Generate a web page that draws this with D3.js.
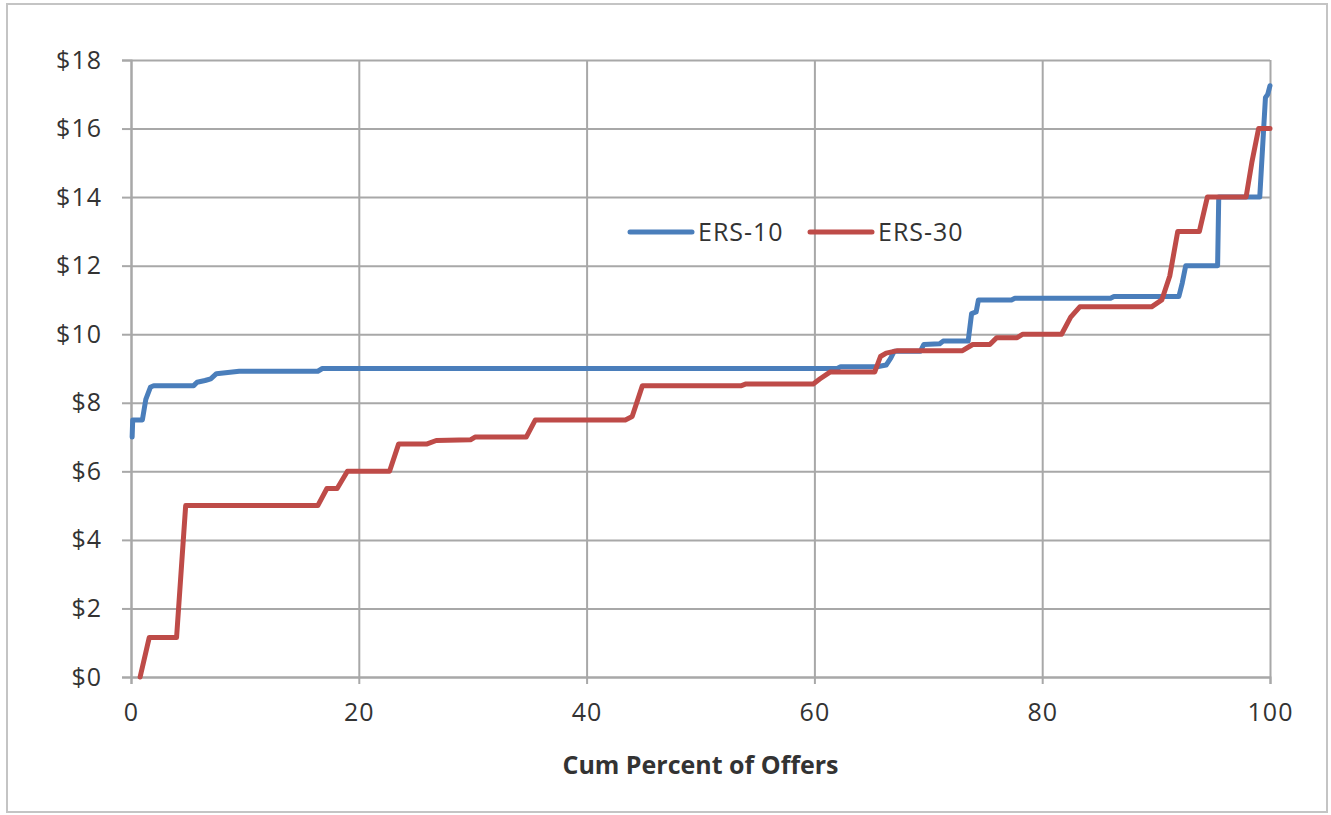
<!DOCTYPE html>
<html>
<head>
<meta charset="utf-8">
<script src="https://cdn.jsdelivr.net/npm/d3@7"></script>
<style>
  html, body { margin: 0; padding: 0; background: #fff; }
  svg { display: block; }
  text { font-family: "Open Sans", "Noto Sans", sans-serif; fill: #333; }
</style>
</head>
<body>
<svg id="chart" width="1331" height="815"></svg>
<script>
// ---- Data ----
const xTicks = [0, 20, 40, 60, 80, 100];
const yTicks = [0, 2, 4, 6, 8, 10, 12, 14, 16, 18];
const yTickLabels = ["$0", "$2", "$4", "$6", "$8", "$10", "$12", "$14", "$16", "$18"];
const seriesNames = ["ERS-10", "ERS-30"];
const xTitle = "Cum Percent of Offers";

// ERS-10: cumulative percent of offers vs price
const ers10Pct = [0.1, 0.15, 1.0, 1.3, 1.7, 2.0, 5.5, 5.8, 6.5, 7.0, 7.5, 9.5, 16.4, 16.8,
  62.0, 62.3, 65.5, 66.3, 66.7, 67.0, 69.3, 69.6, 71.0, 71.3, 73.5, 73.8, 74.2, 74.4,
  77.3, 77.6, 86.0, 86.3, 92.0, 92.3, 92.6, 95.4, 95.5, 99.1, 99.6, 99.8, 100];
const ers10Price = [7.0, 7.5, 7.5, 8.1, 8.45, 8.5, 8.5, 8.6, 8.65, 8.7, 8.85, 8.92, 8.92, 9.0,
  9.0, 9.05, 9.05, 9.1, 9.3, 9.5, 9.5, 9.7, 9.72, 9.8, 9.8, 10.6, 10.65, 11.0,
  11.0, 11.05, 11.05, 11.1, 11.1, 11.5, 12.0, 12.0, 14.0, 14.0, 16.9, 17.0, 17.25];

// ERS-30
const ers30Pct = [0.8, 1.6, 4.0, 4.8, 16.4, 17.2, 18.1, 19.0, 22.7, 23.5, 26.0, 26.8, 29.8, 30.2,
  34.7, 35.5, 43.4, 44.0, 44.9, 53.6, 54.0, 59.9, 60.5, 61.4, 65.3, 65.8, 66.3, 67.3,
  73.0, 73.9, 75.4, 76.0, 77.8, 78.3, 81.7, 82.5, 83.3, 89.6, 90.5, 91.2, 91.9, 93.8,
  94.5, 97.9, 98.4, 99.0, 100];
const ers30Price = [0, 1.15, 1.15, 5.0, 5.0, 5.5, 5.5, 6.0, 6.0, 6.8, 6.8, 6.9, 6.92, 7.0,
  7.0, 7.5, 7.5, 7.6, 8.5, 8.5, 8.55, 8.55, 8.7, 8.9, 8.9, 9.35, 9.45, 9.52,
  9.52, 9.7, 9.7, 9.9, 9.9, 10.0, 10.0, 10.5, 10.8, 10.8, 11.0, 11.7, 13.0, 13.0,
  14.0, 14.0, 15.0, 16.0, 16.0];

const colors = ["#4A7EBB", "#BE4B48"];

// ---- Layout ----
const svg = d3.select("#chart");
const L = 131, R = 1270, T = 60, B = 677;
const x = d3.scaleLinear().domain([0, 100]).range([L, R]);
const y = d3.scaleLinear().domain([0, 18]).range([B, T]);

// outer frame
svg.append("rect").attr("x", 7).attr("y", 4).attr("width", 1320).attr("height", 808)
  .attr("fill", "#fff").attr("stroke", "#c4c4c4").attr("stroke-width", 2);

const gridColor = "#a8a8a8";

// horizontal gridlines
const gy = svg.append("g").attr("transform", `translate(${L},0)`)
  .call(d3.axisLeft(y).tickValues(yTicks).tickSize(-(R - L)).tickFormat(""));
gy.select(".domain").remove();
gy.selectAll("line").attr("stroke", gridColor).attr("stroke-width", 2);

// vertical gridlines
const gx = svg.append("g").attr("transform", `translate(0,${B})`)
  .call(d3.axisBottom(x).tickValues(xTicks).tickSize(-(B - T)).tickFormat(""));
gx.select(".domain").remove();
gx.selectAll("line").attr("stroke", gridColor).attr("stroke-width", 2);

// y axis: outward ticks and labels
const ay = svg.append("g").attr("transform", `translate(${L},0)`)
  .call(d3.axisLeft(y).tickValues(yTicks).tickSize(9).tickPadding(20)
    .tickFormat((d, i) => yTickLabels[i]));
ay.select(".domain").attr("stroke", gridColor).attr("stroke-width", 2);
ay.selectAll("line").attr("stroke", gridColor).attr("stroke-width", 2);
ay.selectAll("text").style("font-size", "25px").style("letter-spacing", "1px").attr("fill", "#333");

// x axis
const ax = svg.append("g").attr("transform", `translate(0,${B})`)
  .call(d3.axisBottom(x).tickValues(xTicks).tickSize(7).tickPadding(19));
ax.select(".domain").attr("stroke", gridColor).attr("stroke-width", 2);
ax.selectAll("line").attr("stroke", gridColor).attr("stroke-width", 2);
ax.selectAll("text").style("font-size", "25px").style("letter-spacing", "1px").attr("fill", "#333");

// x title
svg.append("text").attr("x", (L + R) / 2).attr("y", 774)
  .attr("text-anchor", "middle").style("font-size", "25px").style("font-weight", "bold")
  .attr("fill", "#222").text(xTitle);

// lines
const line = d3.line().x(d => x(d[0])).y(d => y(d[1]));
const series = [
  d3.zip(ers10Pct, ers10Price),
  d3.zip(ers30Pct, ers30Price)
];
series.forEach((s, i) => {
  svg.append("path").datum(s).attr("d", line)
    .attr("fill", "none").attr("stroke", colors[i]).attr("stroke-width", 5)
    .attr("stroke-linejoin", "round").attr("stroke-linecap", "round");
});

// legend
const legX = [630, 810];
seriesNames.forEach((name, i) => {
  const g = svg.append("g");
  g.append("line").attr("x1", legX[i]).attr("x2", legX[i] + 62)
    .attr("y1", 232).attr("y2", 232)
    .attr("stroke", colors[i]).attr("stroke-width", 5).attr("stroke-linecap", "round");
  g.append("text").attr("x", legX[i] + 68).attr("y", 232).attr("dy", "0.35em")
    .style("font-size", "25px").style("letter-spacing", "1px").attr("fill", "#333").text(name);
});
</script>
</body>
</html>
